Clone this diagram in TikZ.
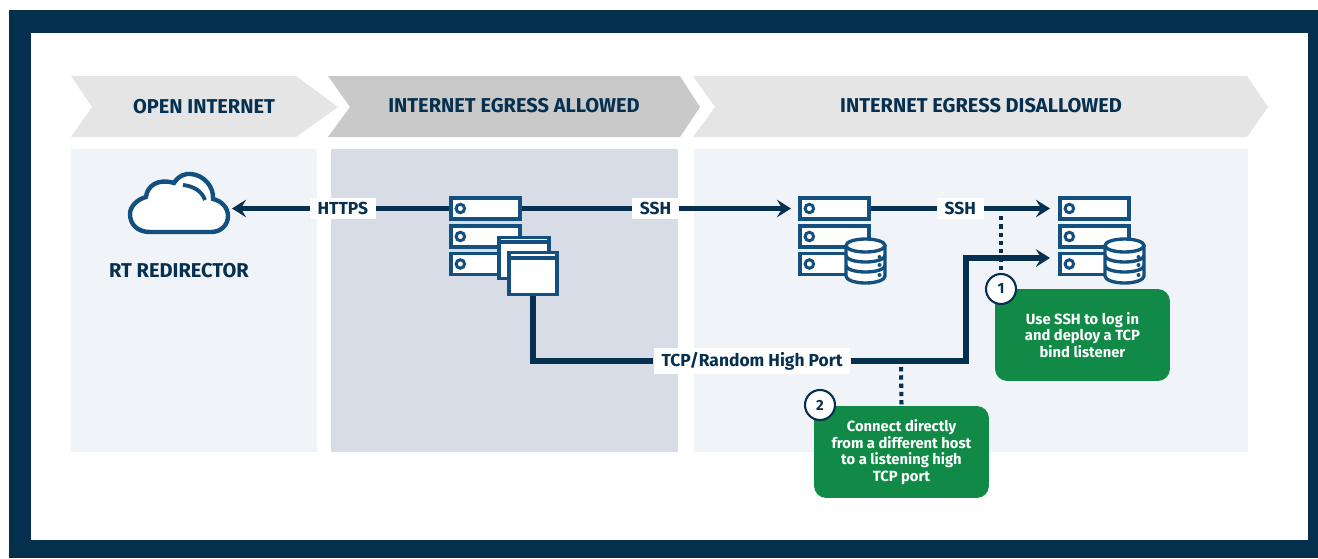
\documentclass[tikz,border=0pt]{standalone}
\usepackage{fontspec}
\setmainfont{Fira Sans}
\usepackage{tikz}
\usepackage{xcolor}
\usetikzlibrary{arrows.meta,calc}

\definecolor{framenavy}{HTML}{042F4D}
\definecolor{linenavy}{HTML}{06304F}
\definecolor{iconblue}{HTML}{13507F}
\definecolor{notegreen}{HTML}{108A46}
\definecolor{panellight}{HTML}{F0F3F7}
\definecolor{panelmid}{HTML}{D7DCE6}
\definecolor{chevlight}{HTML}{E5E5E5}
\definecolor{chevmid}{HTML}{C9C9C9}

\tikzset{
  headtext/.style={font=\fontsize{11.4}{13}\selectfont\bfseries, text=linenavy, inner sep=0pt},
  srvbox/.style={rectangle, draw=iconblue, fill=white, line width=1.9pt, minimum width=1.38cm, minimum height=0.42cm, inner sep=0pt},
  srvring/.style={circle, draw=iconblue, fill=white, line width=1.7pt, minimum size=0.17cm, inner sep=0pt},
  winbox/.style={rectangle, draw=iconblue, fill=white, line width=1.9pt, inner sep=0pt},
  flow/.style={draw=linenavy, line width=3.2pt},
  flowtip/.style={flow, -{Stealth[length=8pt,width=10pt,inset=3pt]}},
  flowtag/.style={fill=white, text=linenavy, font=\fontsize{9.9}{12}\selectfont\bfseries, inner xsep=4.5pt, inner ysep=2.5pt},
  dotlink/.style={draw=linenavy, line width=2.3pt, dash pattern=on 2.5pt off 2.2pt},
  notebox/.style={rectangle, rounded corners=7pt, fill=notegreen, text=white, align=center, font=\fontsize{8.4}{9.45}\selectfont\bfseries, inner sep=0pt},
  badge/.style={circle, draw=linenavy, fill=white, line width=1.2pt, minimum size=0.6cm, inner sep=0pt, font=\fontsize{8.4}{9}\selectfont\bfseries, text=linenavy}
}

% three stacked server rows
\newcommand{\srvstack}[2]{
  \foreach \row/\ypos in {1/208.5,2/236.5,3/264} {
    \node[srvbox] (#1\row) at (#2,\ypos) {};
    \node[srvring] at ($(#1\row.west)+(11,0)$) {};
  }
}
% database drum
\newcommand{\dbdrum}[2]{
  \begin{scope}[shift={(#1,#2)}]
    \filldraw[draw=iconblue, fill=white, line width=1.9pt]
      (-19.5,-16.5) -- (-19.5,14) arc[start angle=180, end angle=0, x radius=19.5, y radius=7] -- (19.5,-16.5);
    \filldraw[draw=iconblue, fill=white, line width=1.9pt] (0,-16.5) ellipse[x radius=19.5, y radius=6.5];
    \draw[iconblue, line width=1.9pt] (-19.5,-6.5) arc[start angle=180, end angle=0, x radius=19.5, y radius=6.5];
    \draw[iconblue, line width=1.9pt] (-19.5,3.5) arc[start angle=180, end angle=0, x radius=19.5, y radius=6.5];
    \foreach \ypos in {-5,3,13}
      \fill[iconblue] (14,\ypos) circle[radius=2];
  \end{scope}
}

\begin{document}
\begin{tikzpicture}[x=0.02cm,y=-0.02cm]
\useasboundingbox (0,0) rectangle (1318,558);
\fill[white] (0,0) rectangle (1318,558);

% frame
\fill[framenavy] (9,10) rectangle (1318,558);
\fill[white] (31,33) rectangle (1308,540);

% chevrons
\fill[chevlight] (71,76) -- (296,76) -- (338,107) -- (296,137) -- (71,137) -- (92,107) -- cycle;
\fill[chevmid] (328,76) -- (680,76) -- (700,107) -- (680,137) -- (328,137) -- (350,107) -- cycle;
\fill[chevlight] (693,76) -- (1247,76) -- (1268,107) -- (1247,137) -- (693,137) -- (715,107) -- cycle;
\node[headtext] (headopen) at (204,107) {OPEN INTERNET};
\node[headtext] (headallowed) at (514,106) {INTERNET EGRESS ALLOWED};
\node[headtext] (headdenied) at (981,106) {INTERNET EGRESS DISALLOWED};

% zones
\fill[panellight] (71,149) rectangle (317,452);
\fill[panelmid] (331,149) rectangle (678,452);
\fill[panellight] (694,149) rectangle (1248,452);

% cloud
\filldraw[draw=iconblue, fill=white, line width=2.5pt]
  (150,232) .. controls (137,232) and (130,224) .. (130,214)
  .. controls (130,206) and (138,199) .. (146,197)
  .. controls (147,186) and (158,178) .. (174,183)
  .. controls (178,176) and (186,173) .. (191,174)
  .. controls (204,175) and (214,187) .. (213,199)
  .. controls (222,201) and (228,208) .. (228,216)
  .. controls (228,225) and (221,232) .. (211,232) -- cycle;
\draw[iconblue, line width=2.2pt] (183,185) .. controls (193,186) and (202,191) .. (205,200);
\coordinate (cloudedge) at (232,208.5);
\node[font=\fontsize{11.4}{13}\selectfont\bfseries, text=linenavy] (redirector) at (179,271) {RT REDIRECTOR};

% servers
\srvstack{srva}{485.5}
\srvstack{srvb}{834.5}
\srvstack{srvc}{1094.5}

% windows
\node[winbox, minimum width=1.0cm, minimum height=0.82cm] (winback) at (524,258) {};
\draw[iconblue, line width=1.9pt] ($(winback.north west)+(0,6)$) -- ($(winback.north east)+(0,6)$);
\node[winbox, minimum width=0.96cm, minimum height=0.84cm] (winfront) at (533,273.5) {};
\draw[iconblue, line width=1.9pt] ($(winfront.north west)+(0,7)$) -- ($(winfront.north east)+(0,7)$);

% databases
\dbdrum{865.5}{262}
\dbdrum{1124.5}{262}

% notes
\node[notebox, minimum width=3.5cm, minimum height=1.84cm] (noteone) at (1082.5,335) {Use SSH to log in\\and deploy a TCP\\bind listener};
\node[notebox, minimum width=3.5cm, minimum height=1.84cm] (notetwo) at (901.5,452) {Connect directly\\from a different host\\to a listening high\\TCP port};
\node[badge] (badgeone) at (1001,289) {1};
\node[badge] (badgetwo) at (820,405) {2};
\coordinate (sshgap) at (1001,216);
\coordinate (tcpgap) at (901,367);
\draw[dotlink] (sshgap) -- (badgeone);
\draw[dotlink] (tcpgap) -- (notetwo.north);

% connectors
\coordinate (srvbtip) at (791,208.5);
\coordinate (srvctip) at (1050,208.5);
\coordinate (srvclow) at (1050,258);
\coordinate (bend) at (966,258);
\draw[flowtip] (srva1.west) -- node[flowtag, pos=0.49] {HTTPS} (cloudedge);
\draw[flowtip] (srva1.east) -- node[flowtag, pos=0.497] {SSH} (srvbtip);
\draw[flowtip] (srvb1.east) -- node[flowtag, pos=0.5] {SSH} (srvctip);
\node[flowtag] (tcptag) at (752,361) {TCP/Random High Port};
\draw[flow] (winfront.south) |- (tcptag.west);
\draw[flowtip] (tcptag.east) -| (bend) -- (srvclow);
\end{tikzpicture}
\end{document}
